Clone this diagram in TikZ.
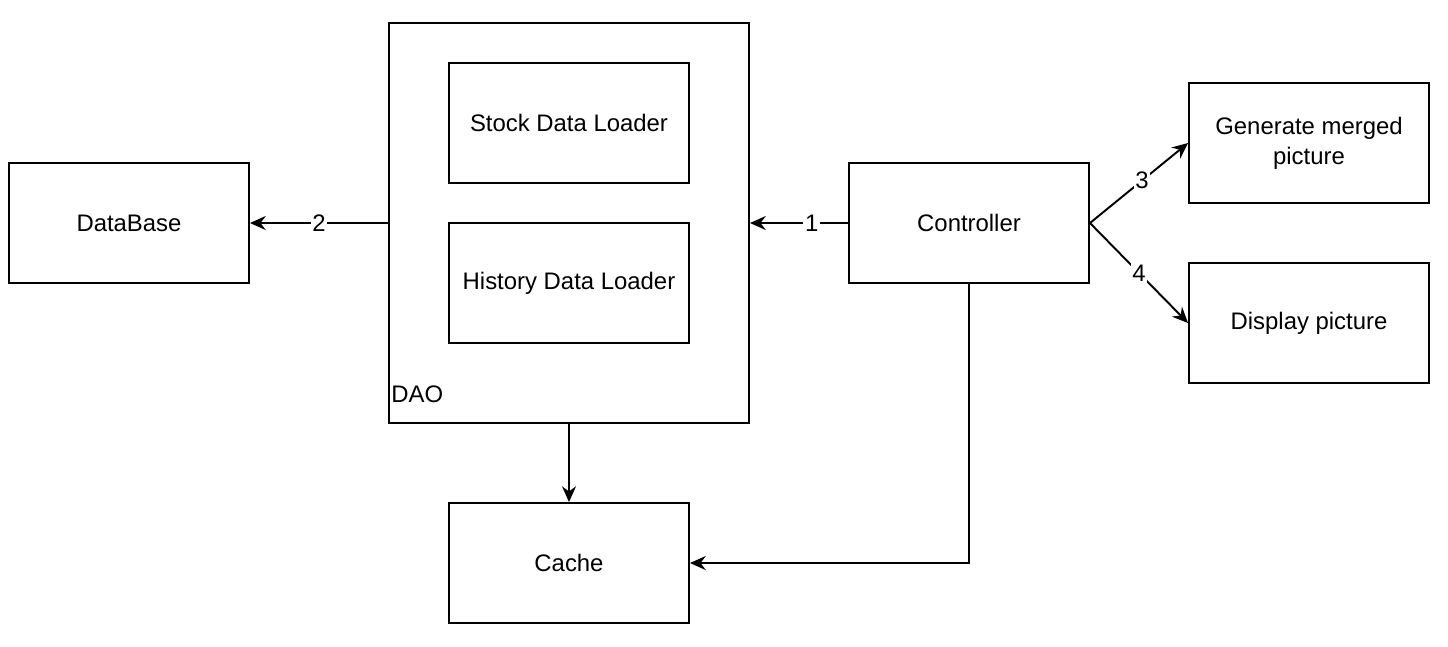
\documentclass[tikz,border=0pt]{standalone}
\usepackage{fontspec}
\setmainfont{Liberation Sans}
\usepackage{tikz}
\usetikzlibrary{arrows.meta}

\begin{document}
\begin{tikzpicture}[
    box/.style={draw, line width=1.1pt, minimum height=2.4cm, minimum width=4.8cm, font=\fontsize{13.6}{17}\selectfont, align=center, inner sep=0pt},
    arr/.style={-{Stealth[length=9pt, width=8pt, inset=3pt]}, line width=1.1pt},
    num/.style={fill=white, inner sep=1pt, font=\fontsize{13.6}{16}\selectfont},
]
\useasboundingbox (0, 0) rectangle (28.96, -12.92);

% === DAO with its loaders ===
\node[box, minimum width=7.2cm, minimum height=8cm] at (11.38, -4.46) (dao) {};
\node[box] at (11.38, -2.46) (stock) {Stock Data Loader};
\node[box] at (11.38, -5.66) (history) {History Data Loader};
\node[anchor=base west, inner sep=0pt, font=\fontsize{13.6}{16}\selectfont] at ([shift={(0.06, 0.42)}]dao.south west) (dao-label) {DAO};

% === Other blocks ===
\node[box] at (2.58, -4.46) (db) {DataBase};
\node[box] at (19.38, -4.46) (ctrl) {Controller};
\node[box] at (26.18, -2.86) (merge) {Generate merged\\picture};
\node[box] at (26.18, -6.46) (show) {Display picture};
\node[box] at (11.38, -11.26) (cache) {Cache};

% === Connectors ===
\draw[arr] (ctrl) -- node[num, pos=0.37] {1} (dao);
\draw[arr] (dao) -- node[num] {2} (db);
\draw[arr] (ctrl.east) -- node[num, pos=0.53] {3} (merge.west);
\draw[arr] (ctrl.east) -- node[num, pos=0.5] {4} (show.west);
\draw[arr] (dao) -- (cache);
\draw[arr] (ctrl.south) |- (cache.east);

\end{tikzpicture}
\end{document}
